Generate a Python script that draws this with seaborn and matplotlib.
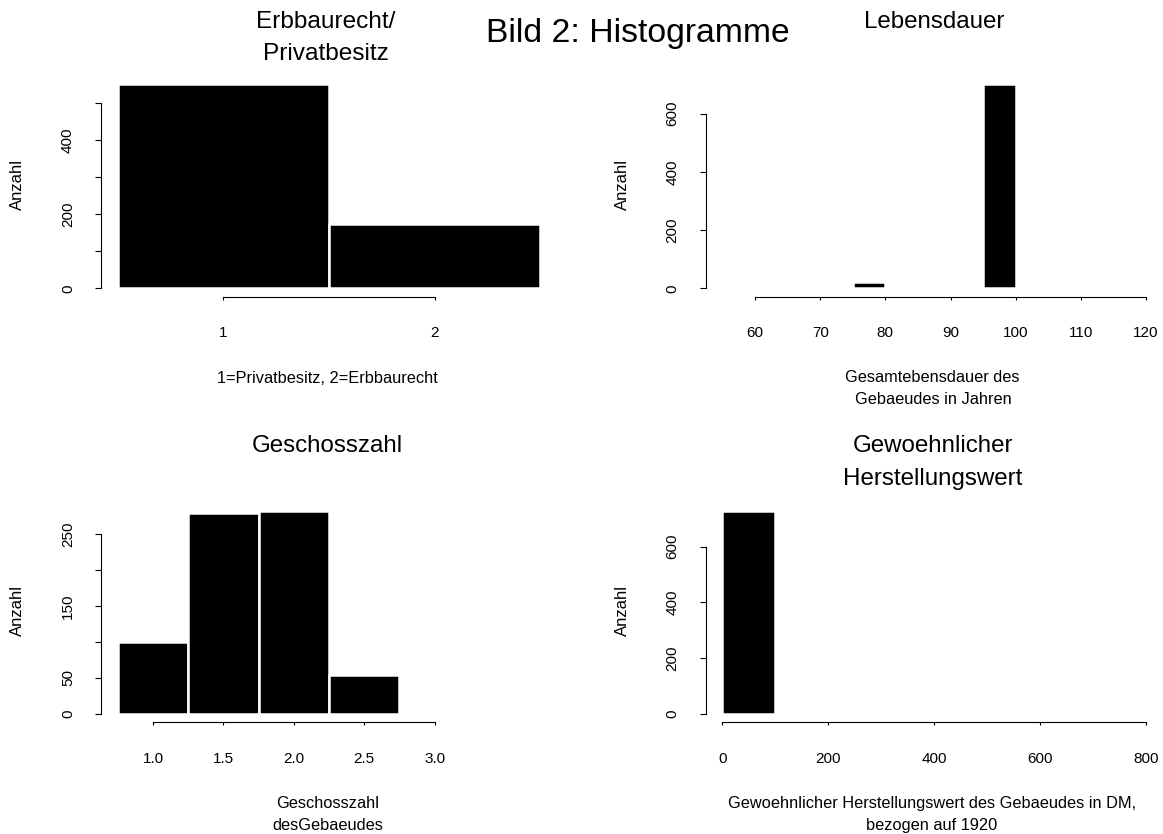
import numpy as np
import pandas as pd
import matplotlib
matplotlib.use("Agg")
import matplotlib.pyplot as plt
import seaborn as sns

# ---------------- data ----------------
eigentum_edges = [0.5, 1.5, 2.5]
eigentum_counts = [551, 173]
eigentum_xticks = [1, 2]
eigentum_yticks = [0, 100, 200, 300, 400, 500]
eigentum_ylabels = ["0", "", "200", "", "400", ""]

lebensdauer_edges = [75, 80, 85, 90, 95, 100]
lebensdauer_counts = [22, 0, 0, 0, 700]
lebensdauer_xticks = [60, 70, 80, 90, 100, 110, 120]
lebensdauer_yticks = [0, 200, 400, 600]
lebensdauer_ylabels = ["0", "200", "400", "600"]

geschoss_edges = [0.75, 1.25, 1.75, 2.25, 2.75]
geschoss_counts = [100, 279, 283, 54]
geschoss_xticks = [1.0, 1.5, 2.0, 2.5, 3.0]
geschoss_yticks = [0, 50, 100, 150, 200, 250]
geschoss_ylabels = ["0", "50", "", "150", "", "250"]

herstellung_edges = [0, 100]
herstellung_counts = [730]
herstellung_xticks = [0, 200, 400, 600, 800]
herstellung_yticks = [0, 200, 400, 600]
herstellung_ylabels = ["0", "200", "400", "600"]

main_title = "Bild 2: Histogramme"
ylabel_text = "Anzahl"

# ---------------- style ----------------
sns.set_theme(style="white")
plt.rcParams["font.family"] = ["Liberation Sans", "DejaVu Sans"]
plt.rcParams["text.color"] = "black"

W, H = 1163, 834
fig = plt.figure(figsize=(W / 100, H / 100), dpi=100)
fig.patch.set_facecolor("white")


def px_axes(left, top, right, bottom):
    return fig.add_axes([left / W, 1 - bottom / H, (right - left) / W, (bottom - top) / H])


def ftext(x, y, s, size, **kw):
    fig.text(x / W, 1 - y / H, s, fontsize=size, color="black", **kw)


def draw(ax, edges, counts, xlim, xticks, xticklabels, yticks, yticklabels):
    e = np.asarray(edges, dtype=float)
    counts = np.asarray(counts, dtype=float)
    df = pd.DataFrame({"wert": (e[:-1] + e[1:]) / 2, "anzahl": counts})
    sns.histplot(data=df, x="wert", weights="anzahl", bins=[float(v) for v in edges],
                 ax=ax, color="black", edgecolor="white", linewidth=1.8, alpha=1)
    ymax = counts.max()
    ax.set_xlim(*xlim)
    ax.set_ylim(-0.04 * ymax, 1.04 * ymax)
    ax.set_xlabel("")
    ax.set_ylabel("")
    ax.set_xticks(xticks, labels=xticklabels)
    ax.set_yticks(yticks, labels=yticklabels, rotation=90, va="center")
    for side in ("top", "right"):
        ax.spines[side].set_visible(False)
    for side in ("left", "bottom"):
        ax.spines[side].set_color("black")
        ax.spines[side].set_linewidth(0.8)
    ax.spines["left"].set_bounds(yticks[0], yticks[-1])
    ax.spines["bottom"].set_bounds(xticks[0], xticks[-1])
    ax.tick_params(axis="both", direction="out", width=0.8,
                   color="black", labelsize=11, labelcolor="black")
    ax.tick_params(axis="x", length=2.2, pad=19.3, bottom=True)
    ax.tick_params(axis="y", length=4.3, pad=14.4, left=True)
    ax.grid(False)
    ax.set_facecolor("white")


ax1 = px_axes(101, 76.3, 557, 296.5)
draw(ax1, eigentum_edges, eigentum_counts, (0.42, 2.58),
     eigentum_xticks, [str(v) for v in eigentum_xticks],
     eigentum_yticks, eigentum_ylabels)

ax2 = px_axes(705.5, 76.3, 1163, 296.5)
draw(ax2, lebensdauer_edges, lebensdauer_counts, (52.4, 122.6),
     lebensdauer_xticks, [str(v) for v in lebensdauer_xticks],
     lebensdauer_yticks, lebensdauer_ylabels)

ax3 = px_axes(101, 502.4, 557, 722)
draw(ax3, geschoss_edges, geschoss_counts, (0.63, 3.87),
     geschoss_xticks, [f"{v:.1f}" for v in geschoss_xticks],
     geschoss_yticks, geschoss_ylabels)

ax4 = px_axes(705.5, 502.4, 1163, 722)
draw(ax4, herstellung_edges, herstellung_counts, (-32, 832),
     herstellung_xticks, [str(v) for v in herstellung_xticks],
     herstellung_yticks, herstellung_ylabels)

# ---------------- texts ----------------
ftext(638, 42, main_title, 24.3, ha="center", va="baseline")

ftext(326, 28, "Erbbaurecht/", 17.6, ha="center", va="baseline")
ftext(326, 60, "Privatbesitz", 17.6, ha="center", va="baseline")
ftext(934, 28, "Lebensdauer", 17.4, ha="center", va="baseline")
ftext(327, 452, "Geschosszahl", 17.4, ha="center", va="baseline")
ftext(933, 452, "Gewoehnlicher", 17.4, ha="center", va="baseline")
ftext(933, 485, "Herstellungswert", 17.4, ha="center", va="baseline")

ftext(327, 383, "1=Privatbesitz, 2=Erbbaurecht", 11.8, ha="center", va="baseline")
ftext(932, 382, "Gesamtebensdauer des", 11.8, ha="center", va="baseline")
ftext(933, 404, "Gebaeudes in Jahren", 11.8, ha="center", va="baseline")
ftext(328, 808, "Geschosszahl", 11.8, ha="center", va="baseline")
ftext(328, 830, "desGebaeudes", 11.8, ha="center", va="baseline")
ftext(932, 808, "Gewoehnlicher Herstellungswert des Gebaeudes in DM,", 11.8,
      ha="center", va="baseline")
ftext(932, 830, "bezogen auf 1920", 11.8, ha="center", va="baseline")

for (x, y) in [(17.5, 184), (622.5, 184), (17.5, 610), (622.5, 610)]:
    ftext(x, y, ylabel_text, 12, ha="center", va="center", rotation=90)

fig.savefig("out.png", dpi=100, facecolor="white")
